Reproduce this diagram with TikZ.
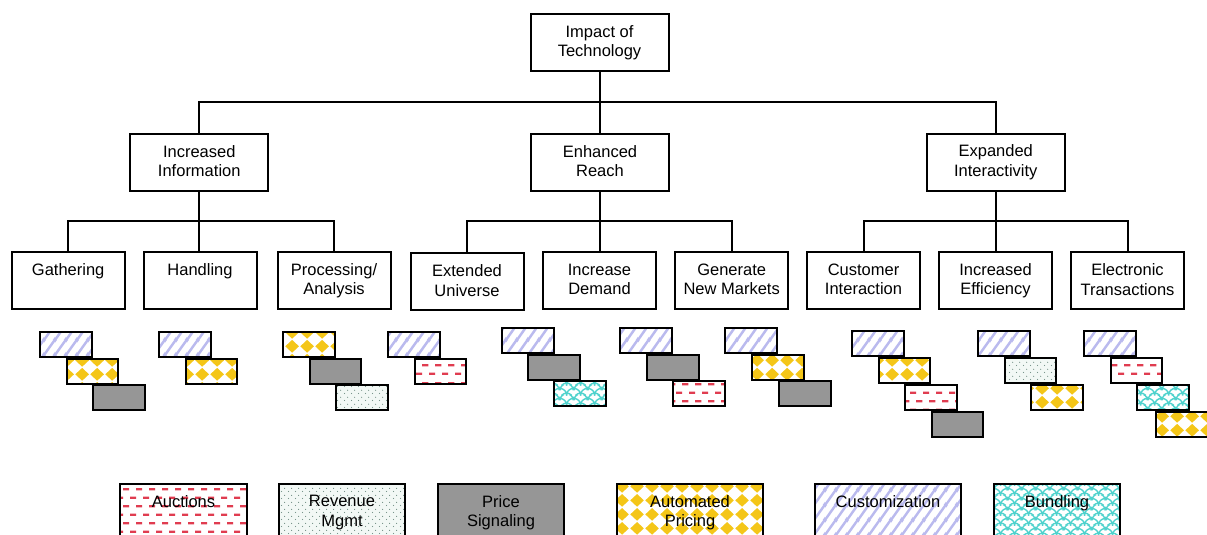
\documentclass[tikz,border=0pt]{standalone}
\usepackage{fontspec}
\setmainfont{Liberation Sans}
\usetikzlibrary{patterns}
\definecolor{custc}{RGB}{186,186,238}
\definecolor{aucc}{RGB}{224,60,80}
\definecolor{revbg}{RGB}{242,248,245}
\definecolor{revdot}{RGB}{110,140,130}
\definecolor{psig}{RGB}{150,150,150}
\definecolor{autoy}{RGB}{244,198,24}
\definecolor{bundc}{RGB}{80,210,205}

\newcommand\cstrut{\rule[-2.1pt]{0pt}{19.5pt}}

\pgfdeclarepatternformonly{custstripes}{\pgfpointorigin}{\pgfpoint{11pt}{15pt}}{\pgfpoint{11pt}{15pt}}{%
  \pgfsetlinewidth{2.6pt}%
  \pgfpathmoveto{\pgfpoint{-16.5pt}{-7.5pt}}\pgfpathlineto{\pgfpoint{5.5pt}{22.5pt}}%
  \pgfpathmoveto{\pgfpoint{-5.5pt}{-7.5pt}}\pgfpathlineto{\pgfpoint{16.5pt}{22.5pt}}%
  \pgfpathmoveto{\pgfpoint{5.5pt}{-7.5pt}}\pgfpathlineto{\pgfpoint{27.5pt}{22.5pt}}%
  \pgfusepath{stroke}}

\pgfdeclarepatternformonly{aucdash}{\pgfpointorigin}{\pgfpoint{13pt}{17.4pt}}{\pgfpoint{13pt}{17.4pt}}{%
  \pgfsetlinewidth{2.4pt}%
  \pgfpathmoveto{\pgfpoint{0pt}{4.35pt}}\pgfpathlineto{\pgfpoint{6.5pt}{4.35pt}}%
  \pgfpathmoveto{\pgfpoint{6.5pt}{13.05pt}}\pgfpathlineto{\pgfpoint{13pt}{13.05pt}}%
  \pgfusepath{stroke}}

\pgfdeclarepatternformonly{revdots}{\pgfpointorigin}{\pgfpoint{7pt}{7pt}}{\pgfpoint{7pt}{7pt}}{%
  \pgfpathcircle{\pgfpoint{1.75pt}{1.75pt}}{0.65pt}%
  \pgfpathcircle{\pgfpoint{5.25pt}{5.25pt}}{0.65pt}%
  \pgfusepath{fill}}

\pgfdeclarepatternformonly{autodiam}{\pgfpointorigin}{\pgfpoint{15pt}{14pt}}{\pgfpoint{15pt}{14pt}}{%
  \pgfpathmoveto{\pgfpoint{0.3pt}{7pt}}%
  \pgfpathlineto{\pgfpoint{7.5pt}{0.3pt}}%
  \pgfpathlineto{\pgfpoint{14.7pt}{7pt}}%
  \pgfpathlineto{\pgfpoint{7.5pt}{13.7pt}}%
  \pgfpathclose
  \pgfusepath{fill}}

\newcommand\bscalearc[2]{\pgfpathmoveto{\pgfpoint{#1pt-7pt}{#2pt}}\pgfpatharc{180}{0}{7pt}}
\pgfdeclarepatternformonly{bundscales}{\pgfpointorigin}{\pgfpoint{14pt}{10pt}}{\pgfpoint{14pt}{10pt}}{%
  \pgfsetlinewidth{1.5pt}%
  \bscalearc{-7}{-5}\bscalearc{7}{-5}\bscalearc{21}{-5}%
  \bscalearc{0}{0}\bscalearc{14}{0}%
  \bscalearc{-7}{5}\bscalearc{7}{5}\bscalearc{21}{5}%
  \bscalearc{0}{10}\bscalearc{14}{10}%
  \pgfusepath{stroke}}

\tikzset{
  box/.style={draw, line width=2pt, align=center, inner sep=0pt,
    font=\fontsize{16.5}{19.5}\selectfont,
    execute at begin node=\cstrut, execute at end node=\cstrut},
  topbox/.style={box, minimum width=138pt, minimum height=57pt},
  lbox/.style={box, minimum width=113pt, minimum height=57pt},
  sbox/.style={draw, line width=2pt, minimum width=51.5pt, minimum height=25pt,
    anchor=north west, inner sep=0pt},
  legbox/.style={box, anchor=north west, minimum height=57pt},
  custp/.style={preaction={fill=white}, pattern=custstripes, pattern color=custc},
  aucp/.style={preaction={fill=white}, pattern=aucdash, pattern color=aucc},
  revp/.style={preaction={fill=revbg}, pattern=revdots, pattern color=revdot},
  psigp/.style={fill=psig},
  autop/.style={preaction={fill=white}, pattern=autodiam, pattern color=autoy},
  bundp/.style={preaction={fill=white}, pattern=bundscales, pattern color=bundc},
  conn/.style={line width=2pt},
}

\begin{document}
\begin{tikzpicture}[x=1pt, y=-1pt]
\path[use as bounding box, clip] (0,0) rectangle (1207,535);

% tree
\node[topbox] (top) at (599.5,42.5) {Impact of\\Technology};
\node[topbox] (info) at (199.25,162) {Increased\\Information};
\node[topbox] (reach) at (600,162) {Enhanced\\Reach};
\node[topbox] (inter) at (995.75,162) {Expanded\\Interactivity};

\node[lbox] (gath) at (68.2,280.5) {Gathering\\\phantom{A}};
\node[lbox] (hand) at (200,280.5) {Handling\\\phantom{A}};
\node[lbox] (proc) at (334,280.5) {Processing/\\Analysis};
\node[lbox] (ext) at (467,281.5) {Extended\\Universe};
\node[lbox] (incd) at (599.5,280.5) {Increase\\Demand};
\node[lbox] (gen) at (731.7,280.5) {Generate\\New Markets};
\node[lbox] (cust) at (863.5,280.5) {Customer\\Interaction};
\node[lbox] (eff) at (995.5,280.5) {Increased\\Efficiency};
\node[lbox] (elec) at (1127.5,280.5) {Electronic\\Transactions};

\coordinate (bus) at (0,102);
\coordinate (sub) at (0,221);

\draw[conn] (top.south) -- (top.south |- reach.north);
\draw[conn] (info.north) -- (info.north |- bus) -- (inter.north |- bus) -- (inter.north);

\draw[conn] (info.south) -- (info.south |- hand.north);
\draw[conn] (gath.north) -- (gath.north |- sub) -- (proc.north |- sub) -- (proc.north);

\draw[conn] (reach.south) -- (reach.south |- incd.north);
\draw[conn] (ext.north) -- (ext.north |- sub) -- (gen.north |- sub) -- (gen.north);

\draw[conn] (inter.south) -- (inter.south |- eff.north);
\draw[conn] (cust.north) -- (cust.north |- sub) -- (elec.north |- sub) -- (elec.north);

% small pattern boxes
\node[sbox,custp] (g1a) at (39,331) {};
\node[sbox,autop] (g1b) at (65.5,357.5) {};
\node[sbox,psigp] (g1c) at (92,384) {};

\node[sbox,custp] (g2a) at (158,331) {};
\node[sbox,autop] (g2b) at (184.5,357.5) {};

\node[sbox,autop] (g3a) at (282,331) {};
\node[sbox,psigp] (g3b) at (308.5,357.5) {};
\node[sbox,revp] (g3c) at (335,384) {};

\node[sbox,custp] (g4a) at (387,331) {};
\node[sbox,aucp] (g4b) at (413.5,357.5) {};

\node[sbox,custp] (g5a) at (501,327) {};
\node[sbox,psigp] (g5b) at (527,353.5) {};
\node[sbox,bundp] (g5c) at (553,380) {};

\node[sbox,custp] (g6a) at (619,327) {};
\node[sbox,psigp] (g6b) at (646,353.5) {};
\node[sbox,aucp] (g6c) at (672,380) {};

\node[sbox,custp] (g7a) at (724,327) {};
\node[sbox,autop] (g7b) at (751,353.5) {};
\node[sbox,psigp] (g7c) at (778,380) {};

\node[sbox,custp] (g8a) at (851,330) {};
\node[sbox,autop] (g8b) at (877.5,357) {};
\node[sbox,aucp] (g8c) at (904,384) {};
\node[sbox,psigp] (g8d) at (930.5,411) {};

\node[sbox,custp] (g9a) at (977,330) {};
\node[sbox,revp] (g9b) at (1003.5,357) {};
\node[sbox,autop] (g9c) at (1030,384) {};

\node[sbox,custp] (g10a) at (1083,330) {};
\node[sbox,aucp] (g10b) at (1109.5,357) {};
\node[sbox,bundp] (g10c) at (1136,384) {};
\node[sbox,autop] (g10d) at (1155,411) {};

% legend
\node[legbox,aucp,minimum width=127pt] (lauc) at (119,483) {Auctions\\\phantom{A}};
\node[legbox,revp,minimum width=126pt] (lrev) at (278,483) {Revenue\\Mgmt};
\node[legbox,psigp,minimum width=126pt] (lpri) at (437,483) {Price\\Signaling};
\node[legbox,autop,minimum width=146pt] (laut) at (616,483) {Automated\\Pricing};
\node[legbox,custp,minimum width=146pt] (lcus) at (814,483) {Customization\\\phantom{A}};
\node[legbox,bundp,minimum width=126pt] (lbun) at (993,483) {Bundling\\\phantom{A}};
\end{tikzpicture}
\end{document}
